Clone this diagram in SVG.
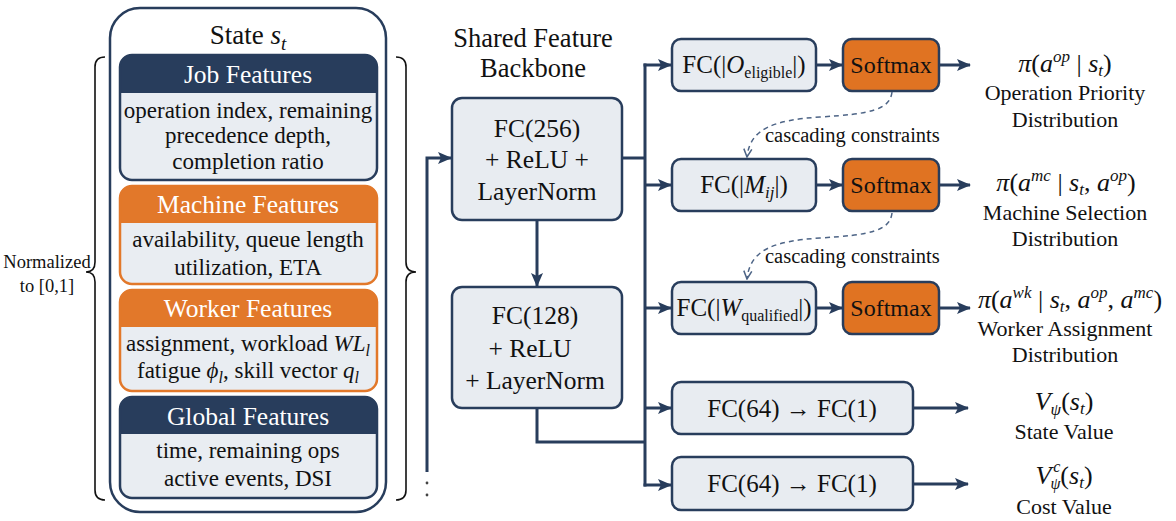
<svg xmlns="http://www.w3.org/2000/svg" width="1176" height="521" viewBox="0 0 1176 521">
<style>
.t{font-family:"Liberation Serif","Times New Roman",serif;fill:#111}
.i{font-style:italic}
.hd{font-family:"Liberation Serif","Times New Roman",serif;fill:#fff;font-size:25.5px}
.bd{font-size:23px}
.bx{fill:#e8ecf1;stroke:#283d5c;stroke-width:2.5}
.sm{fill:#e07322;stroke:#283d5c;stroke-width:2.5}
.conn{stroke:#283d5c;stroke-width:3;fill:none}
.dash{stroke:#4d6486;stroke-width:1.5;fill:none;stroke-dasharray:5 4}
.brace{stroke:#111;stroke-width:1.6;fill:none}
.lbl{font-size:22px}
.m{font-size:26px}
</style>
<defs>
<marker id="ah" viewBox="0 0 14 12" refX="13" refY="6" markerWidth="14" markerHeight="12" markerUnits="userSpaceOnUse" orient="auto"><path d="M0,0 L14,6 L0,12 L3,6 Z" fill="#283d5c"/></marker>
<marker id="oa" viewBox="0 0 10 10" refX="9" refY="5" markerWidth="10" markerHeight="10" markerUnits="userSpaceOnUse" orient="auto"><path d="M1,1 L9,5 L1,9" fill="none" stroke="#4d6486" stroke-width="1.5"/></marker>
</defs>
<rect width="1176" height="521" fill="#fff"/>

<g id="state">
<rect x="110" y="8" width="276" height="504" rx="30" fill="none" stroke="#283d5c" stroke-width="2.5"/>
<text class="t" x="248" y="44" font-size="27" text-anchor="middle">State <tspan class="i">s</tspan><tspan class="i" font-size="19" dy="6">t</tspan></text>
</g>

<g id="job">
<rect x="120" y="55" width="257" height="125" rx="12" fill="#e9edf2"/>
<path d="M120,93 V67 Q120,55 132,55 H365 Q377,55 377,67 V93 Z" fill="#283d5c"/>
<rect x="120" y="55" width="257" height="125" rx="12" fill="none" stroke="#283d5c" stroke-width="2.5"/>
<text class="hd" x="248" y="83" text-anchor="middle">Job Features</text>
<text class="t bd" x="248" y="118" text-anchor="middle">operation index, remaining</text>
<text class="t bd" x="248" y="143" text-anchor="middle">precedence depth,</text>
<text class="t bd" x="248" y="169" text-anchor="middle">completion ratio</text>
</g>

<g id="machine">
<rect x="120" y="186" width="257" height="98" rx="12" fill="#e9edf2"/>
<path d="M120,223 V198 Q120,186 132,186 H365 Q377,186 377,198 V223 Z" fill="#e2782a"/>
<rect x="120" y="186" width="257" height="98" rx="12" fill="none" stroke="#e2782a" stroke-width="2.5"/>
<text class="hd" x="248" y="213" text-anchor="middle">Machine Features</text>
<text class="t bd" x="248" y="247" text-anchor="middle">availability, queue length</text>
<text class="t bd" x="248" y="275" text-anchor="middle">utilization, ETA</text>
</g>

<g id="worker">
<rect x="120" y="290" width="257" height="101" rx="12" fill="#e9edf2"/>
<path d="M120,327 V302 Q120,290 132,290 H365 Q377,290 377,302 V327 Z" fill="#e2782a"/>
<rect x="120" y="290" width="257" height="101" rx="12" fill="none" stroke="#e2782a" stroke-width="2.5"/>
<text class="hd" x="248" y="317" text-anchor="middle">Worker Features</text>
<text class="t bd" x="248" y="351" text-anchor="middle">assignment, workload <tspan class="i">WL</tspan><tspan class="i" font-size="16" dy="5">l</tspan></text>
<text class="t bd" x="248" y="378" text-anchor="middle">fatigue <tspan class="i">ϕ</tspan><tspan class="i" font-size="16" dy="5">l</tspan><tspan dy="-5">, skill vector </tspan><tspan class="i">q</tspan><tspan class="i" font-size="16" dy="5">l</tspan></text>
</g>

<g id="global">
<rect x="120" y="397" width="257" height="101" rx="12" fill="#e9edf2"/>
<path d="M120,434 V409 Q120,397 132,397 H365 Q377,397 377,409 V434 Z" fill="#283d5c"/>
<rect x="120" y="397" width="257" height="101" rx="12" fill="none" stroke="#283d5c" stroke-width="2.5"/>
<text class="hd" x="248" y="425" text-anchor="middle">Global Features</text>
<text class="t bd" x="248" y="458" text-anchor="middle">time, remaining ops</text>
<text class="t bd" x="248" y="486" text-anchor="middle">active events, DSI</text>
</g>

<g id="braces">
<path class="brace" d="M105,57 Q95,57 95,67 L95,262 Q95,272 86,272 Q95,272 95,282 L95,490 Q95,500 105,500"/>
<path class="brace" d="M396,57 Q406,57 406,67 L406,262 Q406,272 416,272 Q406,272 406,282 L406,490 Q406,500 396,500"/>
<text class="t" x="47" y="268" font-size="18.5" text-anchor="middle">Normalized</text>
<text class="t" x="47" y="292" font-size="18.5" text-anchor="middle">to [0,1]</text>
</g>

<g id="backbone-title">
<text class="t" x="533" y="47" font-size="26.5" text-anchor="middle">Shared Feature</text>
<text class="t" x="533" y="77" font-size="26.5" text-anchor="middle">Backbone</text>
</g>

<g id="fc256">
<rect class="bx" x="452" y="98" width="170" height="122" rx="10"/>
<text class="t" x="537" y="137" font-size="25.5" text-anchor="middle">FC(256)</text>
<text class="t" x="537" y="168" font-size="25.5" text-anchor="middle">+ ReLU +</text>
<text class="t" x="537" y="200" font-size="25.5" text-anchor="middle">LayerNorm</text>
</g>

<g id="fc128">
<rect class="bx" x="452" y="287" width="170" height="121" rx="10"/>
<text class="t" x="535" y="324" font-size="25.5" text-anchor="middle">FC(128)</text>
<text class="t" x="530" y="357" font-size="25.5" text-anchor="middle">+ ReLU</text>
<text class="t" x="535" y="389" font-size="25.5" text-anchor="middle">+ LayerNorm</text>
</g>

<g id="fc-op">
<rect class="bx" x="672" y="39" width="144" height="52" rx="9"/>
<text class="t" x="744" y="73" font-size="25" text-anchor="middle">FC(|<tspan class="i">O</tspan><tspan font-size="16" dy="5">eligible</tspan><tspan dy="-5">|)</tspan></text>
</g>
<g id="sm-op">
<rect class="sm" x="843" y="39" width="96" height="52" rx="9"/>
<text class="t" x="891" y="73" font-size="24" text-anchor="middle">Softmax</text>
</g>

<g id="fc-mc">
<rect class="bx" x="672" y="159" width="144" height="52" rx="9"/>
<text class="t" x="744" y="193" font-size="25" text-anchor="middle">FC(|<tspan class="i">M</tspan><tspan class="i" font-size="17" dy="5">ij</tspan><tspan dy="-5">|)</tspan></text>
</g>
<g id="sm-mc">
<rect class="sm" x="843" y="159" width="96" height="52" rx="9"/>
<text class="t" x="891" y="193" font-size="24" text-anchor="middle">Softmax</text>
</g>

<g id="fc-wk">
<rect class="bx" x="672" y="282" width="144" height="52" rx="9"/>
<text class="t" x="744" y="316" font-size="25" text-anchor="middle">FC(|<tspan class="i">W</tspan><tspan font-size="16" dy="5">qualified</tspan><tspan dy="-5">|)</tspan></text>
</g>
<g id="sm-wk">
<rect class="sm" x="843" y="282" width="96" height="52" rx="9"/>
<text class="t" x="891" y="316" font-size="24" text-anchor="middle">Softmax</text>
</g>

<g id="fc-v">
<rect class="bx" x="672" y="382" width="241" height="52" rx="9"/>
<text class="t" x="792" y="417" font-size="25" text-anchor="middle">FC(64) → FC(1)</text>
</g>
<g id="fc-vc">
<rect class="bx" x="672" y="457" width="241" height="53" rx="9"/>
<text class="t" x="792" y="492" font-size="25" text-anchor="middle">FC(64) → FC(1)</text>
</g>

<g id="out-op">
<text class="t m" x="1065" y="72" text-anchor="middle"><tspan class="i">π</tspan>(<tspan class="i">a</tspan><tspan class="i" font-size="17" dy="-10">op</tspan><tspan dy="10"> | </tspan><tspan class="i">s</tspan><tspan class="i" font-size="17" dy="4">t</tspan><tspan dy="-4">)</tspan></text>
<text class="t lbl" x="1065" y="100" text-anchor="middle">Operation Priority</text>
<text class="t lbl" x="1065" y="127" text-anchor="middle">Distribution</text>
</g>
<g id="out-mc">
<text class="t m" x="1066" y="191" text-anchor="middle"><tspan class="i">π</tspan>(<tspan class="i">a</tspan><tspan class="i" font-size="17" dy="-10">mc</tspan><tspan dy="10"> | </tspan><tspan class="i">s</tspan><tspan class="i" font-size="17" dy="4">t</tspan><tspan dy="-4">, </tspan><tspan class="i">a</tspan><tspan class="i" font-size="17" dy="-10">op</tspan><tspan dy="10">)</tspan></text>
<text class="t lbl" x="1065" y="220" text-anchor="middle">Machine Selection</text>
<text class="t lbl" x="1065" y="246" text-anchor="middle">Distribution</text>
</g>
<g id="out-wk">
<text class="t m" x="1070" y="308" text-anchor="middle"><tspan class="i">π</tspan>(<tspan class="i">a</tspan><tspan class="i" font-size="17" dy="-10">wk</tspan><tspan dy="10"> | </tspan><tspan class="i">s</tspan><tspan class="i" font-size="17" dy="4">t</tspan><tspan dy="-4">, </tspan><tspan class="i">a</tspan><tspan class="i" font-size="17" dy="-10">op</tspan><tspan dy="10">, </tspan><tspan class="i">a</tspan><tspan class="i" font-size="17" dy="-10">mc</tspan><tspan dy="10">)</tspan></text>
<text class="t lbl" x="1065" y="336" text-anchor="middle">Worker Assignment</text>
<text class="t lbl" x="1065" y="362" text-anchor="middle">Distribution</text>
</g>
<g id="out-v">
<text class="t m" x="1064" y="410" text-anchor="middle"><tspan class="i">V</tspan><tspan class="i" font-size="17" dy="5">ψ</tspan><tspan dy="-5">(</tspan><tspan class="i">s</tspan><tspan class="i" font-size="17" dy="4">t</tspan><tspan dy="-4">)</tspan></text>
<text class="t lbl" x="1064" y="439" text-anchor="middle">State Value</text>
</g>
<g id="out-vc">
<text class="t m" x="1064" y="484" text-anchor="middle"><tspan class="i">V</tspan><tspan class="i" font-size="16" dx="2" dy="-12">c</tspan><tspan class="i" font-size="16" dx="-10" dy="17">ψ</tspan><tspan dy="-5">(</tspan><tspan class="i">s</tspan><tspan class="i" font-size="17" dy="4">t</tspan><tspan dy="-4">)</tspan></text>
<text class="t lbl" x="1064" y="514" text-anchor="middle">Cost Value</text>
</g>

<g id="connectors">
<path class="conn" d="M427,472 V158 H451" marker-end="url(#ah)"/>
<circle cx="427" cy="483" r="1.4" fill="#444"/>
<circle cx="427" cy="495" r="1.4" fill="#444"/>
<path class="conn" d="M537,220 V286" marker-end="url(#ah)"/>
<path class="conn" d="M622,158 H645"/>
<path class="conn" d="M537,408 V442 H645"/>
<path class="conn" d="M645,63.5 V486.5"/>
<path class="conn" d="M643.5,65 H671" marker-end="url(#ah)"/>
<path class="conn" d="M645,185 H671" marker-end="url(#ah)"/>
<path class="conn" d="M645,308 H671" marker-end="url(#ah)"/>
<path class="conn" d="M645,408 H671" marker-end="url(#ah)"/>
<path class="conn" d="M643.5,485 H671" marker-end="url(#ah)"/>
<path class="conn" d="M816,65 H842" marker-end="url(#ah)"/>
<path class="conn" d="M816,185 H842" marker-end="url(#ah)"/>
<path class="conn" d="M816,308 H842" marker-end="url(#ah)"/>
<path class="conn" d="M939,65 H970" marker-end="url(#ah)"/>
<path class="conn" d="M939,185 H970" marker-end="url(#ah)"/>
<path class="conn" d="M939,308 H970" marker-end="url(#ah)"/>
<path class="conn" d="M913,408 H968" marker-end="url(#ah)"/>
<path class="conn" d="M913,484 H968" marker-end="url(#ah)"/>
<path class="dash" d="M892,92 C890,110 870,114 820,117 C775,120 750,128 747,157" marker-end="url(#oa)"/>
<path class="dash" d="M892,213 C890,231 870,235 820,238 C775,241 750,249 747,279" marker-end="url(#oa)"/>
<text class="t" x="765" y="142" font-size="20.5">cascading constraints</text>
<text class="t" x="765" y="263" font-size="20.5">cascading constraints</text>
</g>
</svg>
